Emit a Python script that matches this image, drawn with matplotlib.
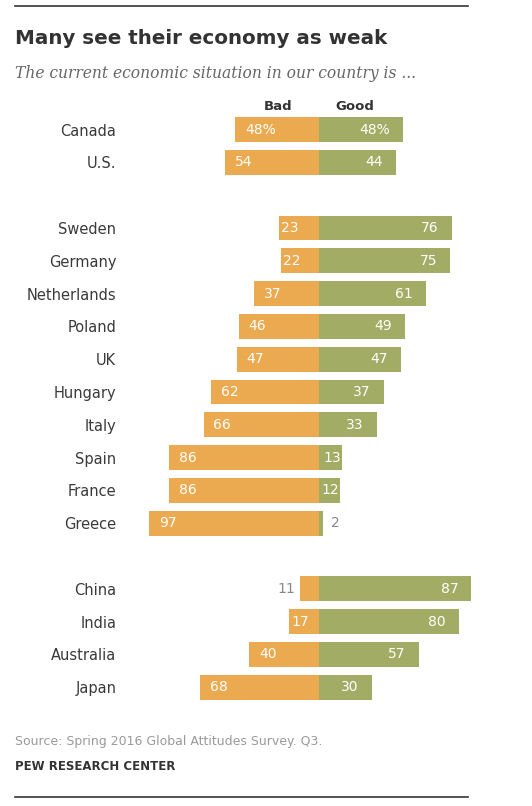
#plot pew chart: views of economy
import matplotlib
matplotlib.use("Agg")
import matplotlib.pyplot as plt
import numpy as np

countries = ["Canada", "U.S.",
             "Sweden", "Germany", "Netherlands", "Poland", "UK", "Hungary",
             "Italy", "Spain", "France", "Greece",
             "China", "India", "Australia", "Japan"]
bad = [48, 54, 23, 22, 37, 46, 47, 62, 66, 86, 86, 97, 11, 17, 40, 68]
good = [48, 44, 76, 75, 61, 49, 47, 37, 33, 13, 12, 2, 87, 80, 57, 30]
# row slots, with an empty slot between the regional groups
rows = [0, 1, 3, 4, 5, 6, 7, 8, 9, 10, 11, 12, 14, 15, 16, 17]

orange = "#ECAA50"
green = "#A3AC65"
dark = "#333333"
W, H = 532, 806
px = 1.75  # pixels per percentage point

fig = plt.figure(figsize=(W / 100, H / 100), dpi=100)
left_px = 319 - 100 * px
ax = fig.add_axes([left_px / W, 1 - 703.6 / H, 200 * px / W, 18 * 32.8 / H])

ax.barh(rows, [-b for b in bad], height=0.76, color=orange)
ax.barh(rows, good, height=0.76, color=green)
ax.set_xlim(-100, 100)
ax.set_ylim(17.5, -0.5)
ax.set_yticks(rows)
ax.set_yticklabels(countries, fontsize=10.5, color="#3a3a3a")
ax.tick_params(axis="y", length=0, pad=20)
ax.set_xticks([])
for s in ax.spines.values():
    s.set_visible(False)

for r, b, g, i in zip(rows, bad, good, range(len(rows))):
    bt = f"{b}%" if i == 0 else str(b)
    gt = f"{g}%" if i == 0 else str(g)
    # bad side
    if b >= 15:
        off = 10 / px if b >= 30 else 2 / px
        ax.text(-b + off, r, bt, ha="left", va="center", color="white", fontsize=10)
    else:
        ax.text(-b - 5 / px, r, bt, ha="right", va="center", color="#888888", fontsize=10)
    # good side
    if g >= 10:
        off = 13 / px if g >= 30 else 1 / px
        ax.text(g - off, r, gt, ha="right", va="center", color="white", fontsize=10)
    else:
        ax.text(g + 9 / px, r, gt, ha="left", va="center", color="#888888", fontsize=10)

fig.text(278 / W, 1 - 107 / H, "Bad", ha="center", va="center", fontsize=9.5,
         fontweight="bold", color=dark)
fig.text(355 / W, 1 - 107 / H, "Good", ha="center", va="center", fontsize=9.5,
         fontweight="bold", color=dark)

fig.text(15 / W, 1 - 38 / H, "Many see their economy as weak", ha="left", va="center",
         fontsize=14.3, fontweight="bold", color=dark)
fig.text(15 / W, 1 - 73 / H, "The current economic situation in our country is ...",
         ha="left", va="center", fontsize=11.2, style="italic", family="DejaVu Serif",
         color="#666666")
fig.text(15 / W, 1 - 741 / H, "Source: Spring 2016 Global Attitudes Survey. Q3.",
         ha="left", va="center", fontsize=9, color="#9a9a9a")
fig.text(15 / W, 1 - 767 / H, "PEW RESEARCH CENTER", ha="left", va="center",
         fontsize=8.5, fontweight="bold", color=dark)

for y in (6, 797):
    fig.add_artist(plt.Line2D([15 / W, 468 / W], [1 - y / H, 1 - y / H],
                              color=dark, linewidth=1.2))

fig.savefig("out.png", dpi=100, facecolor="white")
